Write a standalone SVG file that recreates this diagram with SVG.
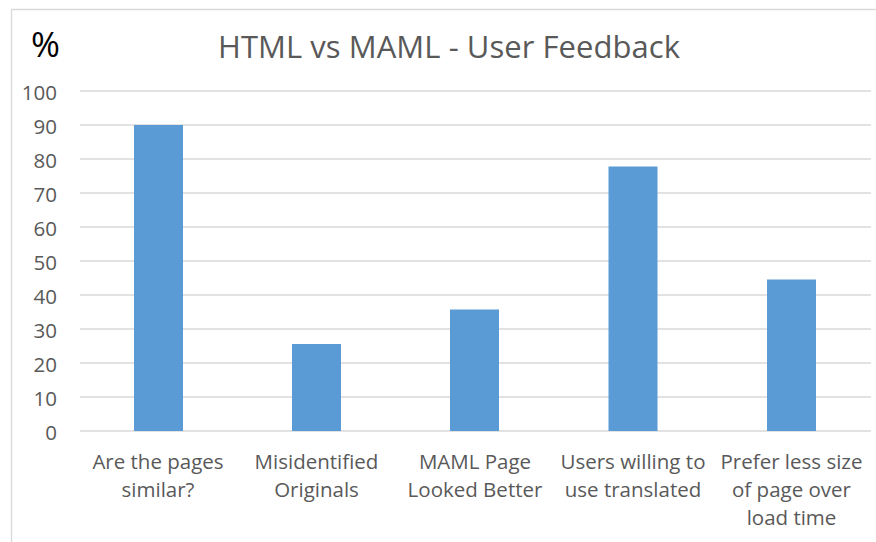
<svg xmlns="http://www.w3.org/2000/svg" width="876" height="542" viewBox="0 0 876 542">
<style>
.grid{stroke:#d9d9d9;stroke-width:1.3}
.bar{fill:#5b9bd5}
.ax{font-family:"Open Sans","Liberation Sans",sans-serif;font-size:20.5px;fill:#595959}
.yl{text-anchor:end}
.cl{text-anchor:middle}
</style>
<rect width="876" height="542" fill="#ffffff"/>
<path d="M11.5 542 V9.5 H876" fill="none" stroke="#d9d9d9" stroke-width="1.3"/>
<text x="31" y="57" font-family="Open Sans, Liberation Sans, sans-serif" font-size="35" fill="#000">%</text>
<text x="449" y="57.5" text-anchor="middle" font-family="Open Sans, Liberation Sans, sans-serif" font-size="31" fill="#595959" textLength="462">HTML vs MAML - User Feedback</text>
<g id="gridlines">
<line class="grid" x1="80" y1="91" x2="871" y2="91"/>
<line class="grid" x1="80" y1="125" x2="871" y2="125"/>
<line class="grid" x1="80" y1="159" x2="871" y2="159"/>
<line class="grid" x1="80" y1="193" x2="871" y2="193"/>
<line class="grid" x1="80" y1="227" x2="871" y2="227"/>
<line class="grid" x1="80" y1="261" x2="871" y2="261"/>
<line class="grid" x1="80" y1="295" x2="871" y2="295"/>
<line class="grid" x1="80" y1="329" x2="871" y2="329"/>
<line class="grid" x1="80" y1="363" x2="871" y2="363"/>
<line class="grid" x1="80" y1="397" x2="871" y2="397"/>
<line class="grid" x1="80" y1="431" x2="871" y2="431"/>
</g>
<g id="ylabels" class="ax yl">
<text x="57" y="100">100</text>
<text x="57" y="134">90</text>
<text x="57" y="168">80</text>
<text x="57" y="202">70</text>
<text x="57" y="236">60</text>
<text x="57" y="270">50</text>
<text x="57" y="304">40</text>
<text x="57" y="338">30</text>
<text x="57" y="372">20</text>
<text x="57" y="406">10</text>
<text x="57" y="440">0</text>
</g>
<g id="bar1"><rect class="bar" x="134" y="125" width="49" height="306"/></g>
<g id="bar2"><rect class="bar" x="292" y="344" width="49" height="87"/></g>
<g id="bar3"><rect class="bar" x="450" y="309.5" width="49" height="121.5"/></g>
<g id="bar4"><rect class="bar" x="608.5" y="166.5" width="49" height="264.5"/></g>
<g id="bar5"><rect class="bar" x="767" y="279.5" width="49" height="151.5"/></g>
<g id="xlabels" class="ax cl">
<text x="158" y="469">Are the pages</text>
<text x="158" y="497">similar?</text>
<text x="316.5" y="469">Misidentified</text>
<text x="316.5" y="497">Originals</text>
<text x="475" y="469">MAML Page</text>
<text x="475" y="497">Looked Better</text>
<text x="633" y="469">Users willing to</text>
<text x="633" y="497">use translated</text>
<text x="791.5" y="469">Prefer less size</text>
<text x="791.5" y="497">of page over</text>
<text x="791.5" y="525">load time</text>
</g>
</svg>
